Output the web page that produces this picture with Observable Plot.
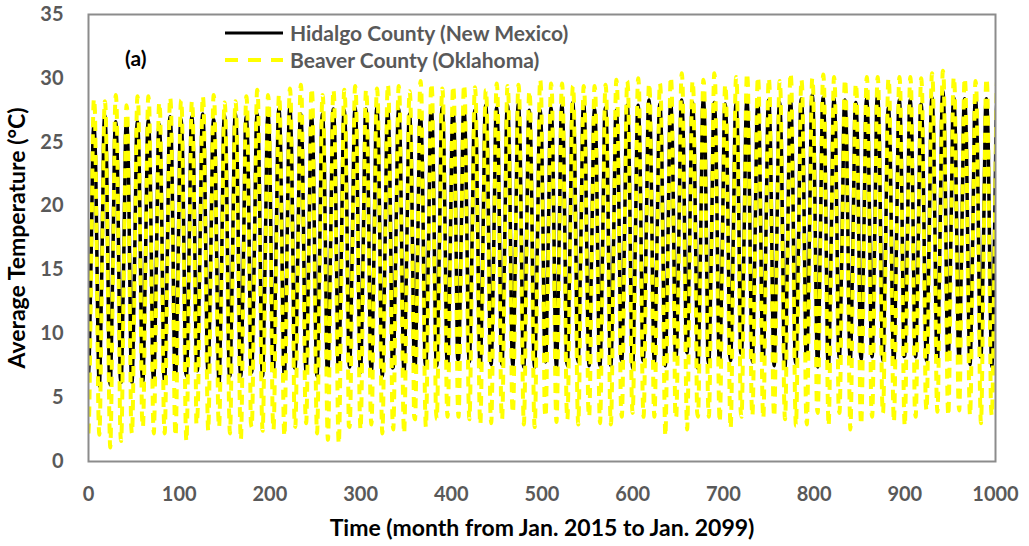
<!DOCTYPE html>
<html>
<head>
<meta charset="utf-8">
<script src="https://cdn.jsdelivr.net/npm/d3@7"></script>
<script src="https://cdn.jsdelivr.net/npm/@observablehq/plot@0.6"></script>
<style>
  html, body { margin: 0; padding: 0; background: #fff; }
  #wrap { position: relative; width: 1029px; height: 546px; font-family: Lato, "Open Sans", sans-serif; }
  #wrap svg.plot text { font-family: Lato, "Open Sans", sans-serif; }
  g[aria-label="x-axis label"] text, g[aria-label="y-axis label"] text { fill: #000; font-size: 23px; }
  #legend { position: absolute; left: 225px; top: 19px; font-weight: bold; font-size: 21px; color: #595959; line-height: 27px; }
  #legend .row { display: flex; align-items: center; height: 27px; white-space: nowrap; }
  #legend svg { margin-right: 7px; }
  #tag { position: absolute; left: 125px; top: 45px; font-weight: bold; font-size: 21px; color: #000; line-height: 25px; }
</style>
</head>
<body>
<div id="wrap"></div>
<script>
// Tick labels
const xTicks = [0, 100, 200, 300, 400, 500, 600, 700, 800, 900, 1000];
const yTicks = [0, 5, 10, 15, 20, 25, 30, 35];

// Series names
const seriesNames = ["Hidalgo County (New Mexico)", "Beaver County (Oklahoma)"];

// Yearly summer peaks and winter (January) troughs, years 2015..2098
const hidalgoPeak = [
  26.3, 27.1, 26.6, 26.7, 26.6, 26.7, 26.4, 27.0, 26.8, 27.0, 27.2, 26.8, 27.1, 27.2, 27.0, 27.2, 27.2,
  27.6, 27.7, 27.2, 27.0, 27.2, 27.6, 27.5, 27.7, 27.6, 27.7, 27.5, 27.6, 27.2, 27.1, 27.7, 27.7, 27.5,
  27.7, 27.5, 27.9, 27.7, 27.9, 28.0, 27.5, 27.5, 27.7, 27.9, 28.1, 28.0, 27.6, 27.7, 27.5, 27.9, 27.9,
  28.3, 28.0, 28.0, 28.3, 28.1, 28.4, 28.1, 28.0, 28.0, 28.3, 28.0, 28.3, 28.1, 28.3, 28.4, 28.7, 28.5,
  28.4, 28.3, 28.1, 28.4, 28.7, 27.7, 28.3, 28.3, 28.0, 28.5, 29.0, 28.5, 28.4, 28.4, 28.4, 28.3
];
const hidalgoTrough = [
  6.7, 5.9, 6.0, 6.2, 6.2, 6.3, 6.3, 6.3, 6.5, 6.7, 7.1, 7.0, 6.1, 6.7, 6.7, 7.0, 6.7,
  7.1, 6.7, 7.4, 7.0, 6.7, 7.1, 7.4, 7.4, 7.0, 7.1, 6.7, 7.4, 7.0, 7.2, 7.5, 7.5, 7.4,
  8.0, 7.8, 7.4, 7.6, 7.6, 7.5, 7.4, 7.4, 7.8, 7.4, 7.5, 7.8, 7.5, 7.5, 7.5, 7.9, 7.3,
  8.2, 7.8, 7.5, 8.2, 8.5, 7.3, 7.7, 7.7, 7.9, 8.5, 7.8, 7.9, 7.5, 7.4, 7.7, 8.2, 7.4,
  7.6, 8.2, 7.9, 8.0, 8.2, 7.9, 7.6, 8.3, 8.2, 7.9, 7.8, 8.2, 8.0, 7.6, 8.2, 7.4
];
const beaverPeak = [
  28.4, 28.2, 28.7, 27.9, 28.6, 28.6, 28.1, 28.5, 28.3, 28.2, 28.6, 28.7, 28.1, 28.2, 28.6, 29.1, 28.7,
  28.7, 29.2, 29.5, 29.2, 28.7, 29.1, 29.1, 29.4, 29.1, 29.2, 29.5, 29.4, 29.0, 29.8, 29.6, 29.2, 29.4,
  29.5, 29.3, 29.1, 29.6, 29.4, 29.5, 29.0, 29.9, 29.6, 29.6, 29.4, 29.4, 29.4, 29.5, 29.9, 29.8, 30.0,
  29.6, 29.6, 30.1, 30.4, 29.8, 29.9, 30.4, 29.5, 30.1, 30.4, 30.1, 30.0, 29.8, 30.4, 29.9, 30.0, 30.3,
  30.1, 29.9, 29.6, 30.1, 30.1, 30.0, 30.1, 30.1, 30.0, 30.4, 30.6, 30.1, 30.0, 29.8, 30.0, 30.0
];
const beaverTrough = [
  2.2, 2.1, 1.1, 1.6, 2.2, 2.7, 2.2, 2.2, 2.0, 1.6, 3.4, 2.4, 2.7, 2.2, 1.7, 2.7, 2.4,
  2.5, 2.0, 2.7, 3.0, 2.2, 1.7, 1.4, 2.7, 2.5, 2.9, 2.2, 2.5, 2.2, 3.3, 2.7, 3.3, 3.5,
  3.5, 3.3, 2.9, 3.0, 3.3, 3.8, 2.9, 2.7, 3.5, 3.1, 3.3, 2.9, 3.5, 3.0, 2.9, 3.5, 3.8,
  3.5, 3.5, 2.0, 3.5, 2.5, 3.5, 3.5, 3.1, 2.6, 3.5, 3.6, 3.4, 3.5, 3.3, 2.8, 2.9, 3.8,
  2.8, 3.8, 2.5, 2.9, 3.5, 3.8, 3.1, 2.8, 3.5, 4.0, 3.9, 3.6, 4.0, 3.6, 3.0, 3.6
];

// Seasonal shape (share of the year's range above the January trough), Jan..Dec
const hidalgoSeason = [0.0, 0.10, 0.30, 0.50, 0.74, 0.96, 1.0, 0.95, 0.82, 0.56, 0.26, 0.03];
const beaverSeason  = [0.0, 0.09, 0.30, 0.50, 0.72, 0.93, 1.0, 0.97, 0.80, 0.55, 0.27, 0.05];

function monthly(peak, trough, season) {
  const out = [];
  peak.forEach((p, yr) => {
    season.forEach((s, m) => {
      out.push({month: yr * 12 + m, value: trough[yr] + (p - trough[yr]) * s});
    });
  });
  return out;
}
const hidalgo = monthly(hidalgoPeak, hidalgoTrough, hidalgoSeason);
const beaver = monthly(beaverPeak, beaverTrough, beaverSeason);

const chart = Plot.plot({
  width: 1029,
  height: 546,
  marginLeft: 88,
  marginRight: 34,
  marginTop: 14,
  marginBottom: 85,
  x: {domain: [0, 1000]},
  y: {domain: [0, 35]},
  style: {fontFamily: "Lato, 'Open Sans', sans-serif", fontSize: "20px", fontWeight: "bold", color: "#595959", background: "#fff", overflow: "visible"},
  marks: [
    Plot.line(hidalgo, {x: "month", y: "value", stroke: "#000", strokeWidth: 3.5, curve: "monotone-x", clip: true}),
    Plot.line(beaver, {x: "month", y: "value", stroke: "#ffff00", strokeWidth: 4, strokeDasharray: "10,7", strokeLinecap: "butt", curve: "monotone-x", clip: true}),
    Plot.axisX({ticks: xTicks, tickSize: 0, tickPadding: 25, tickFormat: d3.format("d"),
      label: "Time (month from Jan. 2015 to Jan. 2099)", labelAnchor: "center", labelArrow: "none", labelOffset: 74}),
    Plot.axisY({ticks: yTicks, tickSize: 0, tickPadding: 25, tickFormat: d3.format("d"),
      label: "Average Temperature (°C)", labelAnchor: "center", labelArrow: "none", labelOffset: 80}),
    Plot.frame({stroke: "#8c8c8c", strokeWidth: 2})
  ]
});
chart.classList.add("plot");
const wrap = document.getElementById("wrap");
wrap.appendChild(chart);

// Legend
const legend = document.createElement("div");
legend.id = "legend";
const styles = [
  {stroke: "#000", width: 3, dash: null},
  {stroke: "#ffff00", width: 4, dash: "13,10"}
];
seriesNames.forEach((name, i) => {
  const row = document.createElement("div");
  row.className = "row";
  const st = styles[i];
  row.innerHTML = `<svg width="58" height="10"><line x1="0" x2="58" y1="5" y2="5" stroke="${st.stroke}" stroke-width="${st.width}" ${st.dash ? `stroke-dasharray="${st.dash}"` : ""}/></svg><span>${name}</span>`;
  legend.appendChild(row);
});
wrap.appendChild(legend);

const tag = document.createElement("div");
tag.id = "tag";
tag.textContent = "(a)";
wrap.appendChild(tag);
</script>
</body>
</html>
